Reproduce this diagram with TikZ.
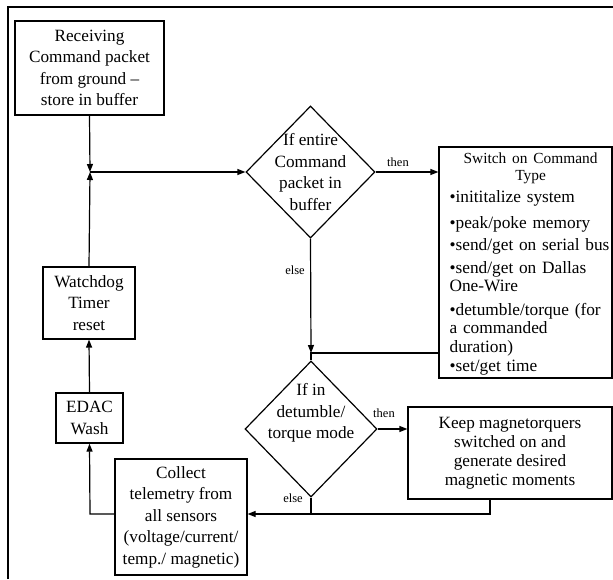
\documentclass[tikz,border=0pt]{standalone}
\usepackage{fontspec}
\setmainfont{Liberation Serif}
\usetikzlibrary{arrows.meta,shapes.geometric}
\begin{document}
\begin{tikzpicture}[x=1pt,y=-1pt,line width=1.2pt,
 box/.style={draw,line width=1.2pt,inner sep=0pt,align=center,font=\fontsize{17.2}{21.5}\selectfont},
 dia/.style={draw,diamond,line width=1.2pt,inner sep=0pt},
 tip/.style={-{Triangle[length=8pt,width=6pt]}},
 lbl/.style={font=\fontsize{12.5}{12.5}\selectfont,inner sep=0pt},
 txt/.style={inner sep=0pt,align=center,font=\fontsize{17.2}{21.5}\selectfont}]
\useasboundingbox (0,0) rectangle (613,579);
\draw[line width=1.3pt] (8,579) -- (8,7) -- (613,7);

\node[box,minimum width=149pt,minimum height=94pt] (rec) at (89.5,68)
  {Receiving\\Command packet\\from ground –\\store in buffer};
\node[box,minimum width=92pt,minimum height=72pt] (wd) at (89,303)
  {Watchdog\\Timer\\reset};
\node[box,minimum width=67pt,minimum height=50pt] (edac) at (89.5,418)
  {EDAC\\Wash};
\node[box,minimum width=132pt,minimum height=116pt] (coll) at (181,517)
  {Collect\\telemetry from\\all sensors\\(voltage/current/\\temp./ magnetic)};
\node[box,minimum width=204pt,minimum height=92pt,font=\fontsize{17.2}{19}\selectfont] (keep) at (510,453)
  {Keep magnetorquers\\switched on and\\generate desired\\magnetic moments};
\node[box,minimum width=173pt,minimum height=231pt] (sw) at (525.5,262.5) {};
\node[inner sep=0pt,anchor=west,text width=162pt,align=left,font=\fontsize{17.3}{18.5}\selectfont] (swt) at (449,264)
  {{\centering\fontsize{15.4}{16.7}\selectfont Switch on Command\\Type\par}\vspace{4pt}
   •inititalize system\par\vspace{7pt}
   •peak/poke memory\par\vspace{3.5pt}
   •send/get on serial bus\par\vspace{4.5pt}
   •send/get on Dallas\\One-Wire\par\vspace{5pt}
   •detumble/torque (for\\a commanded\\duration)\par\vspace{1pt}
   •set/get time};

\node[dia,minimum width=129pt,minimum height=132pt] (d1) at (310.5,172) {};
\node[txt] (d1t) at (d1.center) {If entire\\Command\\packet in\\buffer};
\node[dia,minimum width=132pt,minimum height=136pt] (d2) at (311,429) {};
\node[txt,anchor=north] (d2t) at (311,383) {If in\\detumble/\\torque mode};

\node[lbl] (l1) at (398,162) {then};
\node[lbl] (l2) at (295,270) {else};
\node[lbl] (l3) at (384,413) {then};
\node[lbl] (l4) at (293,498) {else};

\coordinate (j1) at (90,172);
\coordinate (j2) at (311,353);
\coordinate (j3) at (311,514);
\coordinate (k1) at (490,514);
\coordinate (c1) at (90,514);

\draw[tip] (rec.south) -- (j1);
\draw[tip] (wd.north) -- (j1);
\draw[tip] (j1) -- (d1.west);
\draw[tip] (d1.east) -- (sw.west |- d1.east);
\draw[tip] (d1.south) -- (j2);
\draw (sw.west |- j2) -- (j2) -- (d2.north);
\draw[tip] (d2.east) -- (keep.west |- d2.east);
\draw (d2.south) -- (j3);
\draw[tip] (k1 |- keep.south) -- (k1) -- (coll.east |- k1);
\draw[tip] (coll.west |- c1) -- (c1) -- (edac.south);
\draw[tip] (edac.north) -- (wd.south);
\end{tikzpicture}
\end{document}
